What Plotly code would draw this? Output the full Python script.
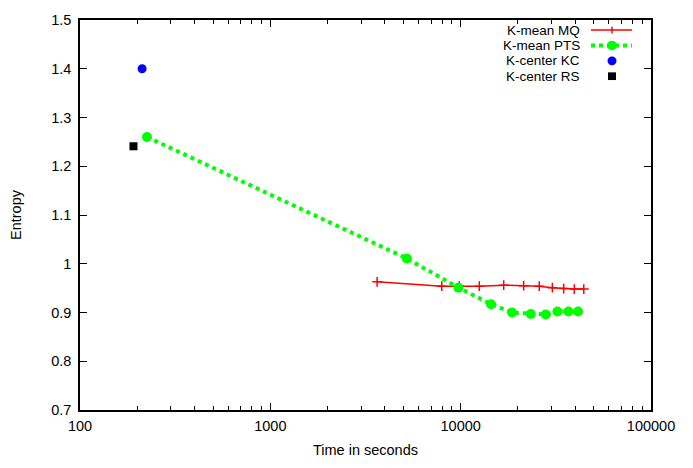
import plotly.graph_objects as go

# Data
mq_time = [3640, 7955, 9840, 12530, 16830, 21430, 25880, 30330, 34770, 39550, 44340]
mq_entropy = [0.963, 0.954, 0.954, 0.954, 0.956, 0.955, 0.954, 0.951, 0.949, 0.948, 0.948]
pts_time = [225, 5210, 9730, 14450, 18620, 23360, 27990, 32230, 36850, 41380]
pts_entropy = [1.26, 1.011, 0.951, 0.917, 0.900, 0.897, 0.896, 0.902, 0.902, 0.902]
kc_time = [212]
kc_entropy = [1.40]
rs_time = [191]
rs_entropy = [1.241]

x_tickvals = [100, 1000, 10000, 100000]
x_ticktext = ["100", "1000", "10000", "100000"]
x_minor = [m * d for d in [100, 1000, 10000] for m in range(2, 10)]
y_tickvals = [0.7, 0.8, 0.9, 1.0, 1.1, 1.2, 1.3, 1.4, 1.5]
y_ticktext = ["0.7", "0.8", "0.9", "1", "1.1", "1.2", "1.3", "1.4", "1.5"]

names = ["K-mean MQ", "K-mean PTS", "K-center KC", "K-center RS"]
RED, GREEN, BLUE, BLACK = "#ff0000", "#00ff00", "#0000ff", "#000000"
FONT = "Liberation Sans, Arial, sans-serif"
FS = 14.5
LFS = 13.5

fig = go.Figure()
fig.add_trace(go.Scatter(x=mq_time, y=mq_entropy, mode="lines+markers", name=names[0],
                         line=dict(color=RED, width=1.5),
                         marker=dict(symbol="cross-thin", size=7, line=dict(color=RED, width=1.5))))
fig.add_trace(go.Scatter(x=pts_time, y=pts_entropy, mode="lines+markers", name=names[1],
                         line=dict(color=GREEN, width=4, dash="dot"),
                         marker=dict(symbol="circle", size=10, color=GREEN)))
fig.add_trace(go.Scatter(x=kc_time, y=kc_entropy, mode="markers", name=names[2],
                         marker=dict(symbol="circle", size=9, color=BLUE)))
fig.add_trace(go.Scatter(x=rs_time, y=rs_entropy, mode="markers", name=names[3],
                         marker=dict(symbol="square", size=8, color=BLACK)))

W, H = 693, 468
ml, mr, mt, mb = 80, 42, 12, 50
pw, ph = W - ml - mr, H - mt - mb

def px(x):
    return (x - ml) / pw

def py(y):
    return 1 - (y - mt) / ph

shapes = []
annotations = []
rows = [22.5, 38.5, 54.5, 70.5]
x0, x1, xm = 591, 632, 612
for i, (nm, yy) in enumerate(zip(names, rows)):
    annotations.append(dict(x=px(582), y=py(yy), xref="paper", yref="paper", text=nm,
                            showarrow=False, xanchor="right", yanchor="middle",
                            font=dict(family=FONT, size=LFS, color="black")))
# legend samples
y = rows[0]
shapes.append(dict(type="line", xref="paper", yref="paper", x0=px(x0), x1=px(x1), y0=py(y), y1=py(y),
                   line=dict(color=RED, width=1.5)))
shapes.append(dict(type="line", xref="paper", yref="paper", x0=px(xm), x1=px(xm), y0=py(y - 3.5), y1=py(y + 3.5),
                   line=dict(color=RED, width=1.5)))
y = rows[1]
shapes.append(dict(type="line", xref="paper", yref="paper", x0=px(x0), x1=px(x1), y0=py(y), y1=py(y),
                   line=dict(color=GREEN, width=4, dash="dot")))
shapes.append(dict(type="circle", xref="paper", yref="paper", x0=px(xm - 5), x1=px(xm + 5),
                   y0=py(y - 5), y1=py(y + 5), fillcolor=GREEN, line=dict(color=GREEN, width=0)))
y = rows[2]
shapes.append(dict(type="circle", xref="paper", yref="paper", x0=px(xm - 4.5), x1=px(xm + 4.5),
                   y0=py(y - 4.5), y1=py(y + 4.5), fillcolor=BLUE, line=dict(color=BLUE, width=0)))
y = rows[3]
shapes.append(dict(type="rect", xref="paper", yref="paper", x0=px(xm - 4), x1=px(xm + 4),
                   y0=py(y - 4), y1=py(y + 4), fillcolor=BLACK, line=dict(color=BLACK, width=0)))

fig.update_layout(
    width=W, height=H, autosize=False,
    margin=dict(l=ml, r=mr, t=mt, b=mb),
    paper_bgcolor="white", plot_bgcolor="white",
    showlegend=False,
    font=dict(family=FONT, size=FS, color="black"),
    shapes=shapes, annotations=annotations,
)
fig.update_xaxes(type="log", range=[2, 5], tickvals=x_tickvals, ticktext=x_ticktext,
                 ticks="inside", ticklen=7, tickwidth=1, tickcolor="black",
                 minor=dict(tickvals=x_minor, ticks="inside", ticklen=4, tickcolor="black", showgrid=False),
                 showline=True, linecolor="black", linewidth=1.5, mirror="allticks",
                 showgrid=False, zeroline=False,
                 title=dict(text="Time in seconds", font=dict(size=FS), standoff=12),
                 tickfont=dict(size=FS), ticklabelstandoff=2)
fig.update_yaxes(range=[0.7, 1.5], tickvals=y_tickvals, ticktext=y_ticktext,
                 ticks="inside", ticklen=7, tickwidth=1, tickcolor="black",
                 showline=True, linecolor="black", linewidth=1.5, mirror="allticks",
                 showgrid=False, zeroline=False,
                 title=dict(text="Entropy", font=dict(size=FS), standoff=26),
                 tickfont=dict(size=FS), ticklabelstandoff=4)

fig.write_html("out.html")
